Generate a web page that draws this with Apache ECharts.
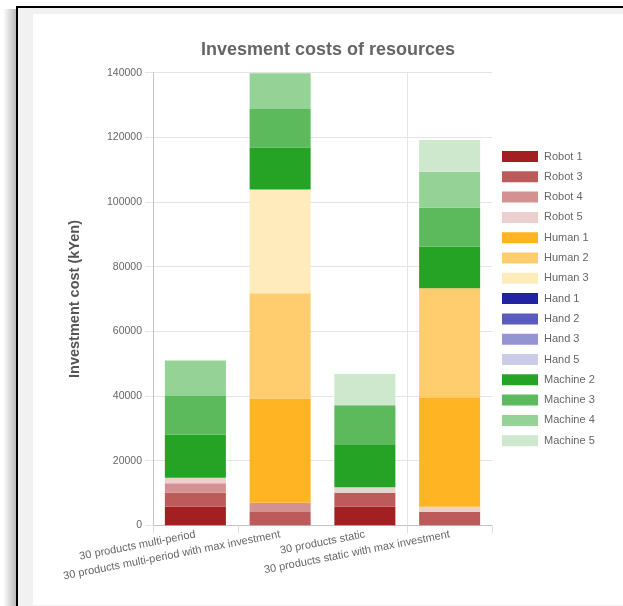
<!DOCTYPE html>
<html>
<head>
<meta charset="utf-8">
<script src="https://cdn.jsdelivr.net/npm/echarts@6/dist/echarts.min.js"></script>
<style>
  html, body { margin: 0; padding: 0; width: 623px; height: 606px; overflow: hidden; background: #ffffff; }
  #shadow { position: absolute; left: 3px; top: 9px; width: 14px; height: 600px;
            background: linear-gradient(to right, rgba(255,255,255,0), rgba(120,120,120,0.55)); }
  #frame { position: absolute; left: 16px; top: 6px; right: 0; bottom: 0;
           border-left: 2px solid #000; border-top: 2px solid #000; background: #f1f1f1; }
  #panel { position: absolute; left: 33px; top: 14px; right: 0; bottom: 1px; background: #ffffff; }
  #chart { position: absolute; left: 0; top: 0; width: 623px; height: 606px; }
</style>
</head>
<body>
<div id="shadow"></div>
<div id="frame"></div>
<div id="panel"></div>
<div id="chart"></div>
<script>
// Scenario names along the x axis
const categories = [
  '30 products multi-period',
  '30 products multi-period with max investment',
  '30 products static',
  '30 products static with max investment'
];

// Investment per resource type (kYen), one value per scenario
const robot1   = [5800, 0, 5750, 0];
const robot3   = [4300, 4100, 4350, 4100];
const robot4   = [2900, 2900, 0, 0];
const robot5   = [1700, 0, 1650, 1650];
const human1   = [0, 32200, 0, 33850];
const human2   = [0, 32600, 0, 33700];
const human3   = [0, 32100, 0, 0];
const hand1    = [0, 0, 0, 0];
const hand2    = [0, 0, 0, 0];
const hand3    = [0, 0, 0, 0];
const hand5    = [0, 0, 0, 0];
const machine2 = [13300, 12900, 13300, 12900];
const machine3 = [12000, 12000, 12050, 12000];
const machine4 = [11000, 11000, 0, 11200];
const machine5 = [0, 0, 9700, 9800];

const seriesNames = ['Robot 1', 'Robot 3', 'Robot 4', 'Robot 5', 'Human 1', 'Human 2', 'Human 3',
                     'Hand 1', 'Hand 2', 'Hand 3', 'Hand 5', 'Machine 2', 'Machine 3', 'Machine 4', 'Machine 5'];
const seriesValues = [robot1, robot3, robot4, robot5, human1, human2, human3,
                      hand1, hand2, hand3, hand5, machine2, machine3, machine4, machine5];
const seriesColors = ['#a31f22', '#bd5a5a', '#d49191', '#ecd0d0', '#ffb523', '#ffcd6e', '#ffebbc',
                      '#2222a3', '#5b5bbd', '#9494d2', '#ccccea', '#25a325', '#5cb95c', '#95d295', '#cde8cd'];

const yTicks = { min: 0, max: 140000, interval: 20000 };

const chart = echarts.init(document.getElementById('chart'), null, { renderer: 'canvas' });

const font = 'Liberation Sans, Arial, Helvetica, sans-serif';

chart.setOption({
  backgroundColor: 'transparent',
  animation: false,
  textStyle: { fontFamily: font },
  title: {
    text: 'Invesment costs of resources',
    left: 328,
    textAlign: 'center',
    top: 41,
    padding: 0,
    textStyle: { fontFamily: font, fontSize: 18, fontWeight: 'bold', color: '#666666' }
  },
  legend: {
    orient: 'vertical',
    left: 502,
    top: 151,
    padding: 0,
    itemWidth: 36,
    itemHeight: 11,
    itemGap: 9.3,
    icon: 'rect',
    data: seriesNames,
    textStyle: { fontFamily: font, fontSize: 11, color: '#666666', lineHeight: 11, padding: [0, 0, 0, 1] }
  },
  grid: { left: 153, right: 131, top: 72.7, bottom: 80.7, containLabel: false },
  xAxis: {
    type: 'category',
    data: categories,
    boundaryGap: true,
    axisLine: { show: true, lineStyle: { color: '#c4c4c4', width: 1 } },
    axisTick: {
      show: true, length: 8,
      interval: function (i) { return i === 0 || i === 1 || i === 3; },
      lineStyle: { color: '#dcdcdc' }
    },
    splitLine: {
      show: true,
      showMinLine: false,
      showMaxLine: false,
      interval: function (i) { return i === 1 || i === 3; },
      lineStyle: { color: '#e4e4e4', width: 1 }
    },
    axisLabel: {
      interval: 0, rotate: 11, margin: 9,
      fontFamily: font, fontSize: 11, color: '#666666'
    }
  },
  yAxis: {
    type: 'value',
    min: yTicks.min,
    max: yTicks.max,
    interval: yTicks.interval,
    name: 'Investment cost (kYen)',
    nameLocation: 'middle',
    nameGap: 71,
    nameTextStyle: { fontFamily: font, fontSize: 14.5, fontWeight: 'bold', color: '#555555' },
    axisLine: { show: true, lineStyle: { color: '#c4c4c4', width: 1 } },
    axisTick: { show: true, length: 8, lineStyle: { color: '#e4e4e4' } },
    splitLine: { show: true, lineStyle: { color: '#e4e4e4', width: 1 } },
    axisLabel: {
      margin: 11, fontFamily: font, fontSize: 10.5, color: '#666666',
      formatter: function (v) { return String(v); }
    }
  },
  series: seriesNames.map(function (name, k) {
    return {
      name: name,
      type: 'bar',
      stack: 'total',
      barWidth: '72%',
      data: seriesValues[k],
      itemStyle: { color: seriesColors[k] },
      emphasis: { disabled: true }
    };
  })
});
</script>
</body>
</html>
